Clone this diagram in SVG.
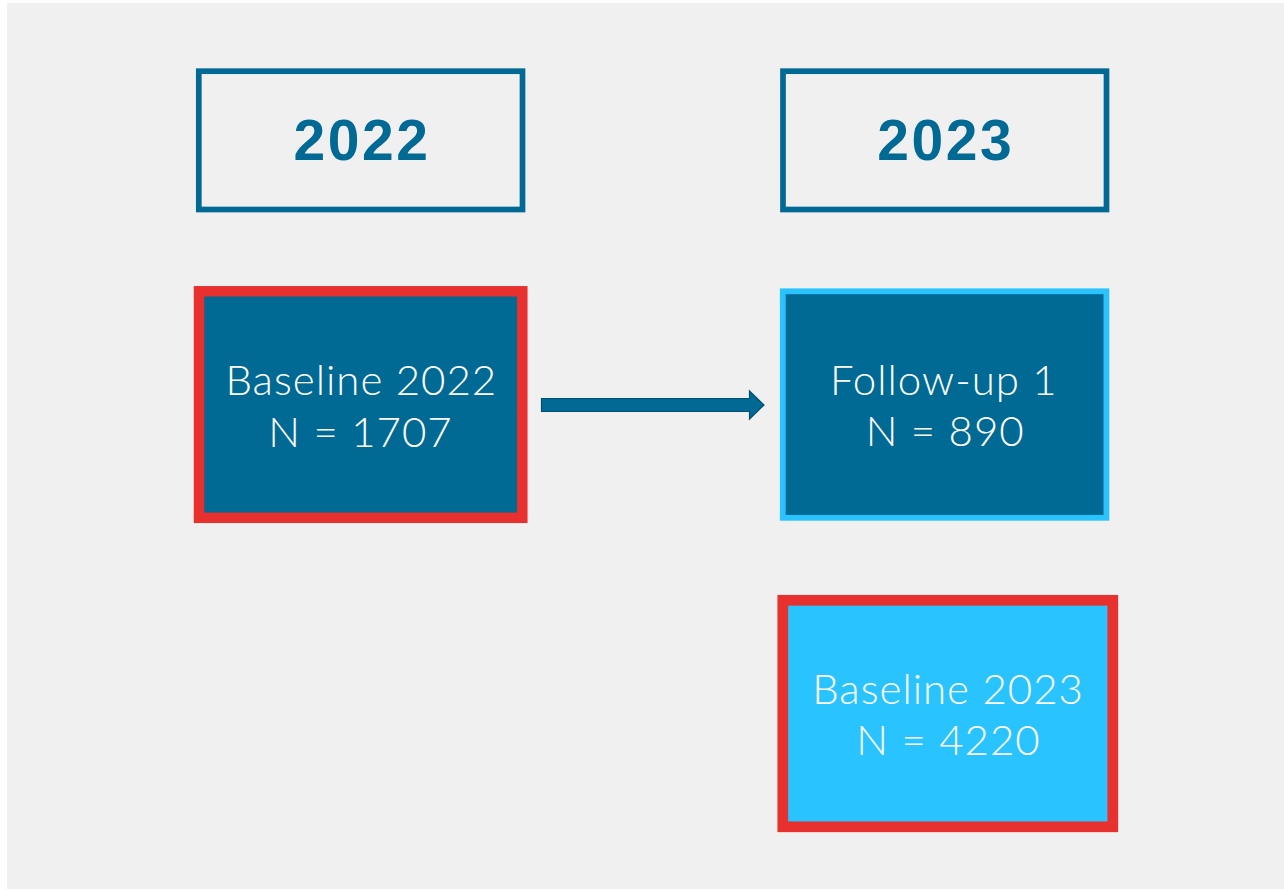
<svg xmlns="http://www.w3.org/2000/svg" width="1284" height="890" viewBox="0 0 1284 890">
<style>
.hdr{fill:none;stroke:#006994;stroke-width:5.7}
.hdrt{font-family:"Liberation Sans",Arial,sans-serif;font-weight:bold;font-size:57px;fill:#006994;text-anchor:middle;letter-spacing:2.6px}
.lbl{font-family:Lato,"Open Sans",sans-serif;font-weight:300;font-size:42px;fill:#ffffff;text-anchor:middle;letter-spacing:1px}
</style>
<rect x="0" y="0" width="1284" height="890" fill="#ffffff"/>
<rect x="7" y="3" width="1277" height="886" fill="#f0f0f0"/>
<g id="hdr2022">
<rect class="hdr" x="198.8" y="71.2" width="323.7" height="138.3"/>
<text class="hdrt" x="362" y="160">2022</text>
</g>
<g id="hdr2023">
<rect class="hdr" x="783" y="71.2" width="323.5" height="138.3"/>
<text class="hdrt" x="945.8" y="160">2023</text>
</g>
<g id="baseline2022">
<rect x="199" y="291.3" width="323.3" height="226.5" fill="#006994" stroke="#e8302e" stroke-width="10.5"/>
<text class="lbl" x="361.3" y="395">Baseline 2022</text>
<text class="lbl" x="360.5" y="446.5">N = 1707</text>
</g>
<g id="followup1">
<rect x="782.8" y="291.3" width="323.6" height="226.5" fill="#006994" stroke="#29c3ff" stroke-width="5.8"/>
<text class="lbl" x="943.8" y="395">Follow-up 1</text>
<text class="lbl" x="945.2" y="445.7">N = 890</text>
</g>
<g id="baseline2023">
<rect x="782.8" y="600.3" width="330" height="226.5" fill="#29c3ff" stroke="#e8302e" stroke-width="10.7"/>
<text class="lbl" x="948" y="704.3">Baseline 2023</text>
<text class="lbl" x="948.5" y="755">N = 4220</text>
</g>
<g id="connectors">
<path d="M541.5,398.5 H749.5 V391 L764,405 L749.5,419 V411.5 H541.5 Z" fill="#006994" stroke="#004e70" stroke-width="1.2"/>
</g>
</svg>
